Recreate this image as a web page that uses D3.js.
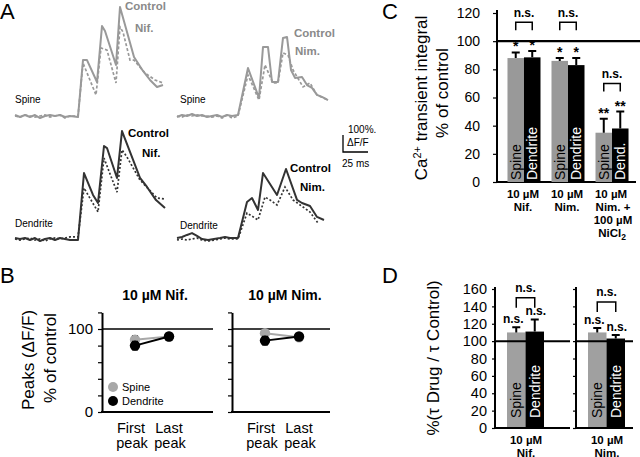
<!DOCTYPE html>
<html><head><meta charset="utf-8">
<script src="https://cdn.jsdelivr.net/npm/d3@7"></script>
<style>
body{margin:0;background:#fff}
svg{display:block}
text{font-family:"Liberation Sans",Arial,Helvetica,sans-serif;fill:#000}
</style></head>
<body><svg width="640" height="457"></svg>
<script>
// ================= DATA =================
// Panel A traces: [time (ms), dF/F (%)]
const spineNifControl = [[0,6],[5,-6],[10,6],[15,-6],[20,6],[25,-12],[30,0],[35,6],[40,0],[45,6],[50,-6],[55,0],[63,-6],[68,329],[72,329],[82,200],[87,529],[90,500],[101,300],[105,641],[119,347],[128,265],[135,212],[142,171],[148,182]];
const spineNifDrug = [[0,0],[5,-6],[10,6],[15,0],[20,-6],[25,0],[30,6],[35,-6],[40,0],[45,6],[50,-12],[55,0],[63,0],[68,312],[81,124],[86,400],[92,388],[101,194],[105,524],[108,494],[115,329],[119,329],[130,253],[140,212],[148,194]];
const dendNifControl = [[0,6],[5,0],[10,6],[15,-6],[20,6],[25,-12],[30,0],[35,6],[40,-6],[45,6],[50,0],[55,-6],[63,-6],[69,388],[78,259],[83,212],[89,547],[92,535],[102,359],[107,635],[115,512],[125,359],[132,306],[141,229],[150,182]];
const dendNifDrug = [[0,0],[5,-6],[10,0],[15,6],[20,-6],[25,0],[30,-12],[35,0],[40,6],[45,0],[50,6],[55,12],[63,12],[69,300],[83,159],[89,476],[102,276],[107,524],[112,482],[125,347],[142,241],[150,235]];
const spineNimControl = [[0,-6],[5,6],[10,0],[15,12],[20,0],[25,6],[30,-6],[35,0],[40,6],[45,-6],[50,6],[55,0],[61,6],[71,282],[82,106],[86,406],[91,406],[95,200],[101,200],[106,459],[110,465],[114,271],[118,224],[125,229],[130,182],[135,165],[140,124],[145,112],[151,94]];
const spineNimDrug = [[0,0],[5,-6],[10,6],[15,0],[20,6],[25,0],[30,0],[35,-6],[40,0],[45,-12],[50,6],[55,-12],[61,0],[71,241],[82,94],[88,300],[96,194],[101,194],[106,371],[111,359],[116,271],[126,171],[133,194],[140,124],[151,94]];
const dendNimControl = [[0,0],[5,6],[10,18],[15,29],[20,12],[25,-6],[31,-12],[37,-6],[43,0],[48,6],[53,0],[61,0],[70,212],[75,235],[81,165],[86,382],[100,253],[109,406],[120,224],[125,206],[133,188],[140,124],[147,106]];
const dendNimDrug = [[0,-12],[5,-6],[10,-12],[15,-6],[20,0],[25,-12],[31,-18],[37,-12],[43,-6],[48,0],[53,-6],[61,-6],[70,147],[81,106],[88,241],[93,224],[100,194],[108,300],[116,224],[133,153],[141,88]];

// Panel B: peaks (% of control)
const bConditions = ["10 \u00b5M Nif.", "10 \u00b5M Nim."];
const bPeaks = ["First peak", "Last peak"];
const bSpine = [[87, 91], [95, 90]];
const bSpineErr = [[5, 3], [4, 3]];
const bDend = [[80, 91], [86, 91]];
const bDendErr = [[5, 4], [5, 3]];
const bTicks = [0, 20, 40, 60, 80, 100, 120];

// Panel C: Ca2+ transient integral (% of control)
const cGroups = ["Nif", "Nim", "NimNi"];
const cSpine = [88, 86, 35];
const cSpineErr = [4, 2, 10];
const cDend = [88.5, 83, 38];
const cDendErr = [4.5, 5, 12];
const cSpineSig = ["*", "*", "**"];
const cDendSig = ["*", "*", "**"];
const cBarLabels = [["Spine", "Dendrite"], ["Spine", "Dendrite"], ["Spine", "Dend."]];
const cTicks = [0, 20, 40, 60, 80, 100, 120];

// Panel D: tau drug / tau control (%)
const dGroups = ["Nif.", "Nim."];
const dSpine = [110, 110];
const dSpineErr = [6, 5];
const dDend = [111, 103];
const dDendErr = [14, 4];
const dTicks = [0, 20, 40, 60, 80, 100, 120, 140, 160];

// ================= DRAW =================
const svg = d3.select("svg");
const GRAY = "#999999", DARK = "#333333", LGRAY = "#a8a8a8";

function txt(x, y, s, size, opts = {}) {
  const t = svg.append("text").attr("x", x).attr("y", y).text(s)
    .style("font-size", size + "px");
  if (opts.bold) t.style("font-weight", "bold");
  if (opts.anchor) t.attr("text-anchor", opts.anchor);
  if (opts.fill) t.style("fill", opts.fill);
  return t;
}
function rtxt(x, y, size, opts = {}) {
  const t = svg.append("text").attr("transform", `translate(${x},${y}) rotate(-90)`)
    .attr("text-anchor", opts.anchor || "middle").attr("dy", "0.35em")
    .style("font-size", size + "px");
  if (opts.bold) t.style("font-weight", "bold");
  if (opts.fill) t.style("fill", opts.fill);
  return t;
}
function hline(x1, x2, y, w = 2, c = "#000") {
  svg.append("line").attr("x1", x1).attr("x2", x2).attr("y1", y).attr("y2", y)
    .attr("stroke", c).attr("stroke-width", w);
}

// ---------- Panel A ----------
txt(0, 19, "A", 22);
const aPanels = [
  { x0: 15, y0: 116, ctrl: spineNifControl, drug: spineNifDrug, color: GRAY, dash: "3,2",
    name: "Spine", nameY: 103, drugName: "Nif.", cLab: [125, 10], dLab: [135, 32] },
  { x0: 15, y0: 239, ctrl: dendNifControl, drug: dendNifDrug, color: DARK, dash: "2,2",
    name: "Dendrite", nameY: 227, drugName: "Nif.", cLab: [128, 137], dLab: [142, 157] },
  { x0: 177, y0: 116, ctrl: spineNimControl, drug: spineNimDrug, color: GRAY, dash: "3,2",
    name: "Spine", nameY: 103, drugName: "Nim.", cLab: [294, 37], dLab: [295, 55] },
  { x0: 177, y0: 238, ctrl: dendNimControl, drug: dendNimDrug, color: DARK, dash: "2,2",
    name: "Dendrite", nameY: 229, drugName: "Nim.", cLab: [290, 172], dLab: [300, 191] }
];
aPanels.forEach(p => {
  const x = d3.scaleLinear().domain([0, 150]).range([p.x0, p.x0 + 150]);
  const y = d3.scaleLinear().domain([0, 100]).range([p.y0, p.y0 - 17]);
  const line = d3.line().x(d => x(d[0])).y(d => y(d[1]));
  svg.append("path").attr("d", line(p.drug)).attr("fill", "none")
    .attr("stroke", p.color).attr("stroke-width", 1.7).attr("stroke-dasharray", p.dash);
  svg.append("path").attr("d", line(p.ctrl)).attr("fill", "none")
    .attr("stroke", p.color).attr("stroke-width", 2).attr("stroke-linejoin", "round");
  txt(p.x0 + (p.x0 > 100 ? 3 : 0), p.nameY, p.name, 10);
  const lc = p.color === GRAY ? "#8a8a8a" : "#000";
  txt(p.cLab[0], p.cLab[1], "Control", 11.5, { bold: true, fill: lc });
  txt(p.dLab[0], p.dLab[1], p.drugName, 11.5, { bold: true, fill: lc });
});
// scale bar: 100% dF/F, 25 ms
{
  const sx = d3.scaleLinear().domain([0, 25]).range([343, 368]);
  const sy = d3.scaleLinear().domain([0, 100]).range([152, 135]);
  svg.append("path").attr("d", `M${sx(0)},${sy(100)}V${sy(0)}H${sx(25)}`)
    .attr("fill", "none").attr("stroke", "#000").attr("stroke-width", 1.3);
  txt(348, 133, "100%.", 10);
  txt(347, 146, "\u0394F/F", 10);
  txt(342, 167, "25 ms", 10);
}

// ---------- Panel B ----------
txt(0, 283, "B", 22);
const bY = d3.scaleLinear().domain([0, 120]).range([412, 312.4]);
const bPanels = [{ ax: 102, right: 213 }, { ax: 232, right: 330 }];
rtxt(28, 360, 17).text("Peaks (\u0394F/F)");
rtxt(50, 358, 17).text("% of control");
bPanels.forEach((bp, i) => {
  const axis = d3.axisLeft(bY).tickValues(bTicks).tickSize(4).tickSizeOuter(0).tickPadding(5)
    .tickFormat(d => (i === 0 && (d === 0 || d === 100)) ? d : "");
  const g = svg.append("g").attr("transform", `translate(${bp.ax},0)`).call(axis);
  g.select(".domain").attr("stroke-width", 2);
  g.selectAll(".tick line").attr("stroke-width", 1.2);
  g.selectAll(".tick text").style("font-size", "15px").attr("font-family", null);
  hline(bp.ax - 1, bp.right, bY(0));
  hline(bp.ax, bp.right, bY(100), 1.6);
  txt(bp.ax + 53, 300, bConditions[i], 14, { bold: true, anchor: "middle" });
  const x = d3.scalePoint().domain(bPeaks).range([bp.ax + 33, bp.ax + 67]);
  bPeaks.forEach((pk, j) => {
    const parts = pk.split(" ");
    const off = j === 0 ? -3 : 1;
    txt(x(pk) + off - 1, 433, parts[0], 14.5, { anchor: "middle" });
    txt(x(pk) + off, 448, parts[1], 14.5, { anchor: "middle" });
  });
  const series = [
    { v: bSpine[i], e: bSpineErr[i], c: LGRAY },
    { v: bDend[i], e: bDendErr[i], c: "#000" }
  ];
  series.forEach(s => {
    svg.append("path").attr("d", d3.line().x((d, j) => x(bPeaks[j])).y(d => bY(d))(s.v))
      .attr("fill", "none").attr("stroke", s.c).attr("stroke-width", 2);
    s.v.forEach((v, j) => {
      const cx = x(bPeaks[j]);
      svg.append("path").attr("d",
        `M${cx},${bY(v - s.e[j])}V${bY(v + s.e[j])}M${cx - 3},${bY(v - s.e[j])}h6M${cx - 3},${bY(v + s.e[j])}h6`)
        .attr("stroke", "#000").attr("stroke-width", 1.5);
      svg.append("circle").attr("cx", cx).attr("cy", bY(v)).attr("r", 5.2).attr("fill", s.c);
    });
  });
  if (i === 0) {
    svg.append("circle").attr("cx", 113).attr("cy", 387).attr("r", 5).attr("fill", LGRAY);
    svg.append("circle").attr("cx", 113).attr("cy", 401).attr("r", 5).attr("fill", "#000");
    txt(122, 391, "Spine", 11);
    txt(122, 405, "Dendrite", 11);
  }
});

// ---------- Panel C ----------
txt(382, 19, "C", 22);
const cY = d3.scaleLinear().domain([0, 120]).range([182, 13]);
const cX = d3.scaleBand().domain(cGroups).range([500, 636]).paddingInner(0.25).paddingOuter(0.17);
{
  const t = rtxt(421, 98, 17);
  t.append("tspan").text("Ca");
  t.append("tspan").attr("dy", -6).style("font-size", "11px").text("2+");
  t.append("tspan").attr("dy", 6).text(" transient integral");
  rtxt(442, 93, 17).text("% of control");
  const g = svg.append("g").attr("transform", "translate(497,0)")
    .call(d3.axisLeft(cY).tickValues(cTicks).tickSize(4).tickSizeOuter(0).tickPadding(13));
  g.select(".domain").attr("stroke-width", 2).attr("d", `M0,10V${cY(0)}`);
  g.selectAll(".tick line").attr("stroke-width", 1.2);
  g.selectAll(".tick text").style("font-size", "14px").attr("font-family", null);
  hline(496, 636, cY(0));
  const bw = cX.bandwidth() / 2;
  cGroups.forEach((grp, i) => {
    const x0 = cX(grp);
    const bars = [
      { x: x0, v: cSpine[i], e: cSpineErr[i], c: GRAY, tc: "#000", lab: cBarLabels[i][0], sig: cSpineSig[i] },
      { x: x0 + bw, v: cDend[i], e: cDendErr[i], c: "#000", tc: "#fff", lab: cBarLabels[i][1], sig: cDendSig[i] }
    ];
    bars.forEach(b => {
      svg.append("rect").attr("x", b.x).attr("y", cY(b.v)).attr("width", bw)
        .attr("height", cY(0) - cY(b.v)).attr("fill", b.c);
      const cx = b.x + bw / 2;
      const top = cY(b.v + b.e);
      svg.append("path").attr("d", `M${cx},${cY(b.v)}V${top}M${cx - 4},${top}h8`)
        .attr("stroke", "#000").attr("stroke-width", 2);
      rtxt(cx, cY(0) - 2, 14, { anchor: "start", fill: b.tc }).text(b.lab);
      txt(cx, top - 1, b.sig, 14, { bold: true, anchor: "middle" });
    });
    // n.s. bracket
    const lvl = i < 2 ? 113.5 : 70;
    const bx1 = x0 + bw / 2, bx2 = x0 + bw * 1.5;
    const by = cY(lvl);
    svg.append("path").attr("d", `M${bx1},${by + 8}V${by}H${bx2}V${by + 8}`)
      .attr("fill", "none").attr("stroke", "#000").attr("stroke-width", 1.5);
    txt((bx1 + bx2) / 2, by - 5, "n.s.", 12, { bold: true, anchor: "middle" });
    // group labels
    const gc = x0 + cX.bandwidth() / 2;
    const fs = 11.5;
    txt(gc - 1, 198, "10 \u00b5M", fs, { bold: true, anchor: "middle" });
    if (i === 0) txt(gc - 1, 211, "Nif.", fs, { bold: true, anchor: "middle" });
    if (i === 1) txt(gc - 1, 211, "Nim.", fs, { bold: true, anchor: "middle" });
    if (i === 2) {
      txt(gc + 1, 211, "Nim. +", fs, { bold: true, anchor: "middle" });
      txt(gc + 1, 224, "100 \u00b5M", fs, { bold: true, anchor: "middle" });
      const t2 = txt(gc, 237, "NiCl", fs, { bold: true, anchor: "middle" });
      t2.append("tspan").attr("dy", 3).style("font-size", "8.5px").text("2");
    }
  });
  hline(496, 640, cY(100), 2.2);
}

// ---------- Panel D ----------
txt(382, 283, "D", 22);
const dY = d3.scaleLinear().domain([0, 160]).range([428, 289]);
rtxt(433, 358, 17).text("%(\u03c4 Drug / \u03c4 Control)");
const dPanels = [{ ax: 495, right: 570, bracket: 150 }, { ax: 576, right: 633, bracket: 145 }];
dPanels.forEach((dp, i) => {
  const axis = d3.axisLeft(dY).tickValues(dTicks).tickSize(3).tickSizeOuter(0).tickPadding(5)
    .tickFormat(d => i === 0 ? d : "");
  const g = svg.append("g").attr("transform", `translate(${dp.ax},0)`).call(axis);
  g.select(".domain").attr("stroke-width", 2).attr("d", `M0,${dY(160) - 2}V${dY(0)}`);
  g.selectAll(".tick line").attr("stroke-width", 1.2);
  g.selectAll(".tick text").style("font-size", "14.5px").attr("font-family", null);
  const x = d3.scaleBand().domain(["Spine", "Dendrite"]).range([dp.ax + 12, dp.ax + 49]);
  const bars = [
    { k: "Spine", v: dSpine[i], e: dSpineErr[i], c: "#a0a0a0", tc: "#000" },
    { k: "Dendrite", v: dDend[i], e: dDendErr[i], c: "#000", tc: "#fff" }
  ];
  bars.forEach(b => {
    svg.append("rect").attr("x", x(b.k)).attr("y", dY(b.v)).attr("width", x.bandwidth())
      .attr("height", dY(0) - dY(b.v)).attr("fill", b.c);
    const cx = x(b.k) + x.bandwidth() / 2;
    const top = dY(b.v + b.e);
    svg.append("path").attr("d", `M${cx},${dY(b.v)}V${top}M${cx - 4},${top}h8`)
      .attr("stroke", "#000").attr("stroke-width", 2);
    rtxt(cx, dY(0) - 10, 14, { anchor: "start", fill: b.tc }).text(b.k);
    txt(cx - (b.k === "Spine" ? 3 : -1), top - 4, "n.s.", 12, { bold: true, anchor: "middle" });
  });
  hline(dp.ax - 1, dp.right, dY(0));
  hline(dp.ax, dp.right, dY(100), 2);
  const bx1 = x("Spine") + x.bandwidth() / 2, bx2 = x("Dendrite") + x.bandwidth() / 2;
  const by = dY(dp.bracket);
  svg.append("path").attr("d", `M${bx1},${by + 10}V${by}H${bx2}V${by + 10}`)
    .attr("fill", "none").attr("stroke", "#000").attr("stroke-width", 1.5);
  txt((bx1 + bx2) / 2, by - 6, "n.s.", 12, { bold: true, anchor: "middle" });
  const gc = dp.ax + 31;
  txt(gc, 444, "10 \u00b5M", 11.5, { bold: true, anchor: "middle" });
  txt(gc, 457, dGroups[i], 11.5, { bold: true, anchor: "middle" });
});
</script>
</body></html>
